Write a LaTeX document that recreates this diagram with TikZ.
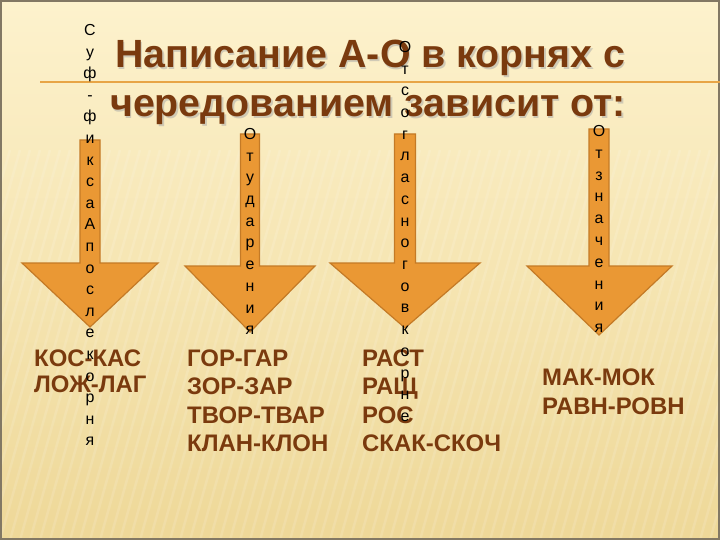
\documentclass[tikz,border=0pt]{standalone}
\usepackage{fontspec}
\setmainfont{Liberation Sans}
\definecolor{bgtop}{RGB}{253,242,205}
\definecolor{bgmid}{RGB}{247,231,182}
\definecolor{bgbot}{RGB}{238,216,152}
\definecolor{brownt}{RGB}{122,58,14}
\definecolor{arrfill}{RGB}{234,152,52}
\definecolor{arrdraw}{RGB}{196,122,38}
\definecolor{rulec}{RGB}{232,165,70}
\definecolor{framec}{RGB}{130,120,100}
\newcommand{\myArrow}[8]{%
  \draw[downarrow] (#2-#3,#4) -- (#2+#3,#4) -- (#2+#3,#5) -- (#7,#5)
    -- (#2,#8) coordinate (#1tip) -- (#6,#5) -- (#2-#3,#5) -- cycle;}
\begin{document}
\begin{tikzpicture}[x=1bp,y=-1bp,
  titletext/.style={font=\fontsize{39.5}{41}\selectfont\bfseries, text=brownt, anchor=base west, inner sep=0},
  rowtext/.style={font=\fontsize{24}{26}\selectfont\bfseries, text=brownt, anchor=base west, inner sep=0},
  vletter/.style={font=\fontsize{16}{16}\selectfont, text=black, anchor=base, inner sep=0},
  stripe/.style={white, opacity=0.13, line width=2.5bp},
  downarrow/.style={fill=arrfill, draw=arrdraw, line width=1.2bp, line join=miter}]
\useasboundingbox (0,0) rectangle (720,540);
\shade[top color=bgtop, middle color=bgmid, bottom color=bgbot] (0,0) rectangle (720,540);
\begin{scope}
\clip (0,150) rectangle (720,540);
\foreach \x in {-160,-150,...,720}
  \draw[stripe] (\x,540) -- (\x+110,150);
\end{scope}
\draw[framec, line width=2bp] (1,1) rectangle (719,539);
% rule
\coordinate (rl) at (40,82);
\coordinate (rr) at (720,82);
\draw[rulec, line width=1.5bp] (rl) -- (rr);
% title
\node[titletext, text=black!35, opacity=0.5] at (116.5,69.5) {Написание А-О в корнях с};
\node[titletext, text=black!35, opacity=0.5] at (111.5,118.5) {чередованием зависит от:};
\node[titletext] (t1) at (115,68) {Написание А-О в корнях с};
\node[titletext] (t2) at (110,117) {чередованием зависит от:};
% arrows
\myArrow{a1}{90}{10}{140}{263}{22}{158}{327}
\myArrow{a2}{250}{9.5}{134}{266}{185}{315}{332}
\myArrow{a3}{405}{10.5}{134}{263}{330}{480}{328}
\myArrow{a4}{599}{10}{129}{266}{527}{672}{335}
% rows
\node[rowtext] (c1a) at (34,366) {КОС-КАС};
\node[rowtext] (c1b) at (34,392) {ЛОЖ-ЛАГ};
\node[rowtext] (c2a) at (187,366) {ГОР-ГАР};
\node[rowtext] (c2b) at (187,394) {ЗОР-ЗАР};
\node[rowtext] (c2c) at (187,423) {ТВОР-ТВАР};
\node[rowtext] (c2d) at (187,451) {КЛАН-КЛОН};
\node[rowtext] (c3a) at (362,366) {РАСТ};
\node[rowtext] (c3b) at (362,394) {РАЩ};
\node[rowtext] (c3c) at (362,423) {РОС};
\node[rowtext] (c3d) at (362,451) {СКАК-СКОЧ};
\node[rowtext] (c4a) at (542,385) {МАК-МОК};
\node[rowtext] (c4b) at (542,414) {РАВН-РОВН};
% vertical letters
\foreach \ch [count=\i from 0] in {С,у,ф,-,ф,и,к,с,а,А,п,о,с,л,е,к,о,р,н,я}
  \node[vletter] (va\i) at (90,35.5+\i*21.6) {\ch};
\foreach \ch [count=\i from 0] in {О,т,у,д,а,р,е,н,и,я}
  \node[vletter] (vb\i) at (250,139.5+\i*21.7) {\ch};
\foreach \ch [count=\i from 0] in {О,т,с,о,г,л,а,с,н,о,г,о,в,к,о,р,н,е}
  \node[vletter] (vc\i) at (405,52.5+\i*21.7) {\ch};
\foreach \ch [count=\i from 0] in {О,т,з,н,а,ч,е,н,и,я}
  \node[vletter] (vd\i) at (599,136.5+\i*21.8) {\ch};
\end{tikzpicture}
\end{document}
